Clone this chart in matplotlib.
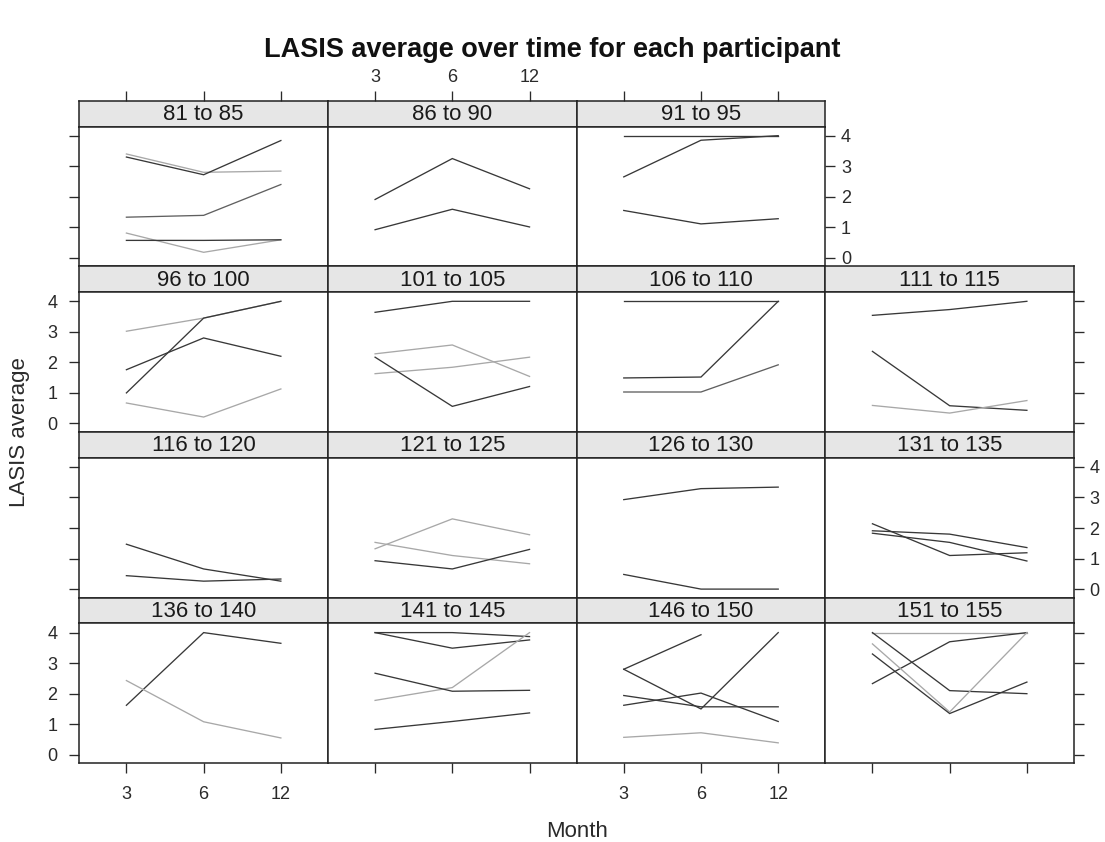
import numpy as np
import matplotlib
matplotlib.use("Agg")
import matplotlib.pyplot as plt

plt.rcParams['font.family'] = ['Liberation Sans', 'DejaVu Sans']

# ---------------- data ----------------
months = ["3", "6", "12"]
groups = ["81 to 85", "86 to 90", "91 to 95",
          "96 to 100", "101 to 105", "106 to 110", "111 to 115",
          "116 to 120", "121 to 125", "126 to 130", "131 to 135",
          "136 to 140", "141 to 145", "146 to 150", "151 to 155"]
y_ticks = [0, 1, 2, 3, 4]

p81_85 = [[3.40, 2.80, 2.84], [3.30, 2.72, 3.84], [1.33, 1.39, 2.40],
          [0.81, 0.18, 0.59], [0.57, 0.57, 0.59]]
t81_85 = ["l", "d", "m", "l", "d"]
p86_90 = [[1.91, 3.25, 2.26], [0.92, 1.59, 1.01]]
t86_90 = ["d", "d"]
p91_95 = [[4.00, 4.00, 4.00], [2.65, 3.85, 4.00], [1.55, 1.11, 1.28]]
t91_95 = ["d", "d", "d"]
p96_100 = [[3.02, 3.45, 4.00], [1.00, 3.45, 4.00], [1.76, 2.80, 2.20],
           [0.67, 0.21, 1.13]]
t96_100 = ["l", "d", "d", "l"]
p101_105 = [[3.64, 4.00, 4.00], [2.28, 2.57, 1.54], [1.63, 1.84, 2.17],
            [2.17, 0.56, 1.21]]
t101_105 = ["d", "l", "l", "d"]
p106_110 = [[4.00, 4.00, 4.00], [1.49, 1.52, 4.00], [1.03, 1.03, 1.92]]
t106_110 = ["d", "d", "m"]
p111_115 = [[3.54, 3.73, 4.00], [2.36, 0.58, 0.43], [0.59, 0.34, 0.75]]
t111_115 = ["d", "d", "l"]
p116_120 = [[1.47, 0.66, 0.26], [0.44, 0.26, 0.33]]
t116_120 = ["d", "d"]
p121_125 = [[1.32, 2.30, 1.78], [1.53, 1.10, 0.83], [0.93, 0.66, 1.30]]
t121_125 = ["l", "l", "d"]
p126_130 = [[2.93, 3.29, 3.34], [0.48, 0.00, 0.00]]
t126_130 = ["d", "d"]
p131_135 = [[2.14, 1.10, 1.19], [1.91, 1.80, 1.36], [1.83, 1.53, 0.92]]
t131_135 = ["d", "d", "d"]
p136_140 = [[1.62, 4.00, 3.65], [2.43, 1.08, 0.55]]
t136_140 = ["d", "l"]
p141_145 = [[4.00, 4.00, 3.87], [4.00, 3.49, 3.76], [1.78, 2.20, 4.00],
            [2.67, 2.08, 2.11], [0.83, 1.09, 1.37]]
t141_145 = ["d", "d", "l", "d", "d"]
p146_150 = [[2.80, 3.93, np.nan], [2.80, 1.50, 4.00], [1.94, 1.57, 1.57],
            [1.62, 2.02, 1.09], [0.57, 0.72, 0.39]]
t146_150 = ["d", "d", "d", "d", "l"]
p151_155 = [[4.00, 4.00, 4.00], [4.00, 2.10, 2.00], [2.33, 3.70, 4.00],
            [3.63, 1.40, 4.00], [3.30, 1.35, 2.38]]
t151_155 = ["l", "d", "d", "l", "d"]

panel_values = [p81_85, p86_90, p91_95, p96_100, p101_105, p106_110, p111_115,
                p116_120, p121_125, p126_130, p131_135, p136_140, p141_145,
                p146_150, p151_155]
panel_tones = [t81_85, t86_90, t91_95, t96_100, t101_105, t106_110, t111_115,
               t116_120, t121_125, t126_130, t131_135, t136_140, t141_145,
               t146_150, t151_155]

# ---------------- style ----------------
tone_color = {"d": "#383838", "m": "#606060", "l": "#a8a8a8"}
W, H = 1105, 842
fig = plt.figure(figsize=(W / 100, H / 100), dpi=100)

LEFT, RIGHT, TOP, BOTTOM = 79.3, 1074.0, 100.7, 763.3
STRIP = 25.8
colw = (RIGHT - LEFT) / 4
rowh = (BOTTOM - TOP) / 4
TICKLEN = 7.2
TICKW = 0.95
SPINE = 1.1
TICKFS = 13
STRIPFS = 16
TXT = "#2a2a2a"


def px_axes(x0, y0, w, h):
    return fig.add_axes([x0 / W, 1 - (y0 + h) / H, w / W, h / H])


xpos = np.arange(1, len(months) + 1)

for i, name in enumerate(groups):
    if i < 3:
        row, col = 0, i
    else:
        row, col = 1 + (i - 3) // 4, (i - 3) % 4
    rightmost = (row == 0 and col == 2) or (row > 0 and col == 3)
    x0 = LEFT + col * colw
    y0 = TOP + row * rowh

    # strip
    sax = px_axes(x0, y0, colw, STRIP)
    sax.set_facecolor("#e6e6e6")
    sax.set_xlim(0.39, 3.61)
    sax.set_ylim(0, 1)
    sax.set_yticks([])
    sax.set_xticks(xpos)
    sax.set_xticklabels(months)
    sax.tick_params(axis='x', bottom=False, labelbottom=False,
                    top=(row == 0), labeltop=(row == 0 and col == 1),
                    direction='out', length=TICKLEN, width=TICKW,
                    pad=3.5, labelsize=TICKFS, colors=TXT)
    for s in sax.spines.values():
        s.set_linewidth(SPINE)
        s.set_color("#222222")
    sax.text(0.5, 0.47, name, transform=sax.transAxes, ha='center',
             va='center', fontsize=STRIPFS, color="#1a1a1a")

    # panel
    ax = px_axes(x0, y0 + STRIP, colw, rowh - STRIP)
    for vals, tone in zip(panel_values[i], panel_tones[i]):
        ax.plot(xpos, vals, color=tone_color[tone], lw=0.95,
                solid_joinstyle='miter')
    ax.set_xlim(0.39, 3.61)
    ax.set_ylim(-0.28, 4.30)
    ax.set_xticks(xpos)
    ax.set_xticklabels(months)
    ax.set_yticks(y_ticks)
    ax.set_yticklabels([str(v) for v in y_ticks])
    ax.tick_params(axis='x', top=False, labeltop=False,
                   bottom=(row == 3), labelbottom=(row == 3 and col in (0, 2)),
                   direction='out', length=TICKLEN, width=TICKW, pad=9.3,
                   labelsize=TICKFS, colors=TXT)
    ax.tick_params(axis='y', left=(col == 0),
                   labelleft=(col == 0 and row in (1, 3)),
                   right=rightmost, labelright=(rightmost and row in (0, 2)),
                   direction='out', length=TICKLEN, width=TICKW,
                   labelsize=TICKFS, colors=TXT)
    # separate paddings for left and right labels
    for t in ax.yaxis.get_major_ticks():
        t.set_pad(8.5)
    if rightmost:
        for lab in ax.get_yticklabels(which='major'):
            pass
        ax.yaxis.set_tick_params(which='major', pad=4.0) if col != 0 else None
    for s in ax.spines.values():
        s.set_linewidth(SPINE)
        s.set_color("#222222")

fig.text(552.5 / W, 1 - 57 / H, "LASIS average over time for each participant",
         ha='center', va='baseline', fontsize=19.5, fontweight='bold',
         color="#111111")
fig.text(576.7 / W, 1 - 837 / H, "Month", ha='center', va='baseline',
         fontsize=STRIPFS, color=TXT)
fig.text(20 / W, 1 - 432 / H, "LASIS average", ha='center', va='center',
         rotation=90, fontsize=STRIPFS, color=TXT)

fig.savefig("out.png", dpi=100)
